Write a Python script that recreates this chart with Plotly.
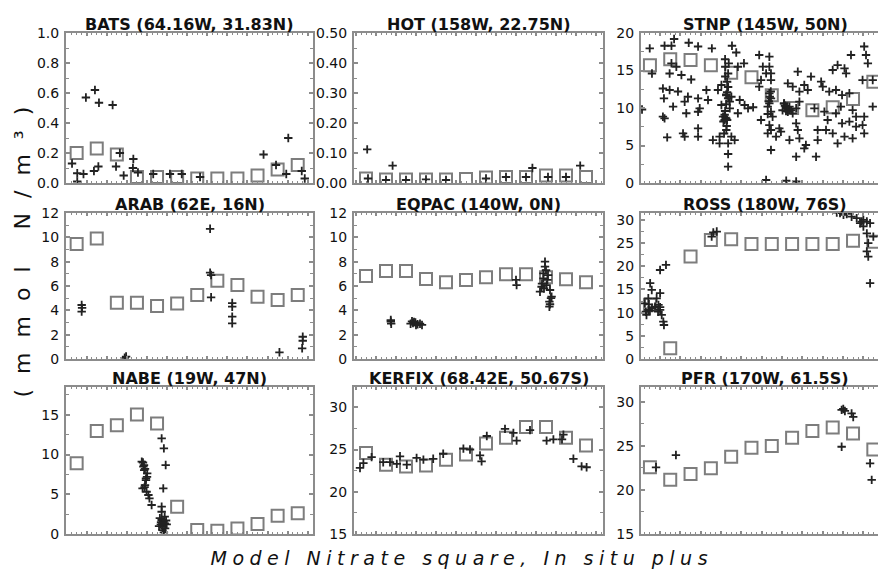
import plotly.graph_objects as go

# ---------------- data (months on x, nitrate mmol N/m3 on y) ----------------
months = [0.5, 1.5, 2.5, 3.5, 4.5, 5.5, 6.5, 7.5, 8.5, 9.5, 10.5, 11.5]

bats_model = [0.20, 0.23, 0.19, 0.04, 0.04, 0.04, 0.03, 0.03, 0.03, 0.05, 0.09, 0.12]
bats_obs_x = [0.96, 1.41, 1.61, 2.29, 0.27, 0.53, 0.84, 1.36, 1.58, 2.46, 2.65, 3.32, 3.30, 2.84, 3.55,
              4.31, 5.14, 5.73, 6.64, 9.80, 11.03, 10.42, 10.93, 0.53, 11.70, 11.85]
bats_obs_y = [0.57, 0.62, 0.535, 0.52, 0.13, 0.065, 0.06, 0.08, 0.11, 0.11, 0.20, 0.16, 0.10, 0.05, 0.07,
              0.06, 0.06, 0.06, 0.04, 0.19, 0.30, 0.12, 0.06, 0.01, 0.08, 0.03]

hot_model = [0.015, 0.012, 0.012, 0.012, 0.012, 0.013, 0.018, 0.02, 0.02, 0.025, 0.025, 0.02]
hot_obs_x = [0.56, 1.83, 8.82, 11.21, 0.6, 1.5, 2.5, 3.5, 4.5, 6.5, 7.5, 8.5, 9.6, 10.5]
hot_obs_y = [0.112, 0.058, 0.05, 0.058, 0.015, 0.01, 0.01, 0.012, 0.01, 0.015, 0.02, 0.02, 0.02, 0.02]

stnp_model = [15.7, 16.5, 16.4, 15.7, 14.7, 14.1, 11.7, 10.0, 9.7, 10.1, 11.2, 13.5]
stnp_obs_x = [1.69, 2.41, 1.22, 1.56, 0.49, 2.87, 3.55, 4.54, 4.75, 5.13, 4.38, 4.21, 1.56, 1.80, 1.47,
              2.05, 2.53, 4.35, 4.21, 4.83, 1.14, 1.47, 1.19, 1.88, 2.37, 2.21, 2.87, 3.28, 3.36, 3.85,
              4.02, 4.35, 4.26, 4.51, 4.43, 4.92, 4.02, 0.11, 1.64, 2.29, 2.95, 2.87, 4.43, 4.83, 5.33,
              5.16, 4.10, 4.18, 4.26, 1.14, 1.22, 2.87, 2.87, 2.13, 2.21, 1.35, 3.60, 3.93, 4.26, 4.51,
              4.67, 4.35, 3.93, 4.35, 4.35, 4.26, 4.30, 4.22, 4.30, 4.18, 4.12, 4.35, 0.60,
              5.88, 6.38, 6.06, 6.38, 6.22, 6.46, 5.97, 5.88, 6.46, 6.38, 6.46, 6.38, 6.30, 6.46, 6.54,
              5.97, 6.38, 6.46, 6.30, 6.87, 6.95, 6.71, 6.46, 7.78, 8.43, 7.29, 7.53, 8.10, 7.86, 8.27,
              8.93, 9.01, 9.33, 9.66, 9.96, 10.32, 9.50, 9.74, 10.08, 10.16, 10.40, 11.05, 11.14, 11.23,
              10.97, 11.47, 7.21, 7.37, 7.11, 7.29, 7.03, 7.45, 7.53, 7.70, 7.86, 8.60, 9.09, 9.66, 9.90,
              10.48, 10.65, 11.05, 11.47, 9.25, 9.96, 10.32, 10.65, 10.97, 9.17, 9.50, 10.08, 9.74, 10.48,
              11.05, 7.70, 7.78, 7.37, 8.18, 8.10, 7.86, 8.76, 8.76, 7.70, 8.68, 7.21, 6.22, 7.70, 5.58,
              7.15, 7.25, 7.35, 7.20, 7.10, 6.40, 6.35, 6.45, 6.30, 4.25, 4.20, 4.28, 4.15, 4.30, 4.20]
stnp_obs_y = [19.2, 18.7, 18.3, 18.3, 17.95, 18.2, 17.95, 18.3, 17.4, 15.96, 15.96, 15.5, 15.96, 15.5, 14.6,
              14.4, 13.8, 14.6, 14.2, 15.5, 12.6, 12.4, 11.29, 12.2, 11.5, 10.84, 11.29, 12.4, 11.07, 12.4,
              13.07, 12.8, 11.7, 11.5, 10.84, 11.07, 10.4, 9.8, 10.18, 9.3, 9.96, 9.5, 9.96, 9.3, 9.96,
              10.4, 8.84, 8.4, 8.62, 8.84, 8.62, 7.29, 6.18, 6.62, 6.18, 6.09, 5.73, 6.18, 7.07, 6.18,
              5.73, 5.29, 5.29, 3.87, 2.18, 11.8, 12.1, 8.7, 8.4, 9.1, 8.2, 11.3, 14.6,
              17.07, 16.84, 15.51, 15.51, 14.62, 14.62, 13.73, 12.84, 13.73, 11.96, 11.29, 10.62, 10.18, 9.51, 8.84,
              8.4, 7.73, 7.07, 6.62, 7.29, 6.84, 6.18, 4.4, 14.84, 14.18, 13.29, 12.84, 13.07, 12.18, 12.4,
              13.51, 12.84, 12.18, 12.4, 11.73, 11.96, 15.07, 15.73, 15.29, 14.62, 17.07, 18.2, 17.07, 15.96,
              13.73, 13.73, 9.96, 10.18, 10.62, 9.51, 9.7, 9.7, 9.29, 9.96, 10.84, 9.96, 9.51, 9.29, 10.18,
              9.73, 8.84, 8.84, 10.18, 8.4, 7.96, 8.18, 7.51, 7.73, 7.07, 6.62, 6.18, 5.29, 5.96,
              6.62, 7.96, 7.07, 5.73, 5.07, 4.62, 5.96, 7.07, 5.73, 3.51, 3.51, 0.3, 0.4, 0.2, 10.1,
              10.3, 10.0, 9.8, 9.6, 10.6, 11.5, 10.9, 12.2, 9.2, 10.5, 9.6, 7.6, 6.6, 13.5, 16.5]

arab_model = [9.45, 9.9, 4.63, 4.63, 4.35, 4.57, 5.26, 6.44, 6.08, 5.12, 4.85, 5.26]
arab_obs_x = [0.75, 0.75, 0.77, 2.96, 2.89, 7.14, 7.14, 7.19, 7.19, 8.24, 8.24, 8.24, 8.24, 10.59, 11.75, 11.75, 11.72]
arab_obs_y = [4.44, 3.89, 4.2, 0.2, 0.1, 10.7, 7.1, 6.9, 5.07, 4.3, 4.6, 3.48, 2.93, 0.55, 1.83, 1.5, 0.88]

eqpac_model = [6.82, 7.23, 7.23, 6.57, 6.30, 6.49, 6.71, 6.96, 6.96, 6.71, 6.55, 6.30]
eqpac_obs_x = [1.74, 1.74, 1.76, 2.73, 2.85, 2.97, 3.08, 3.20, 3.30, 2.80, 3.00, 2.90, 8.03, 8.00,
               9.45, 9.50, 9.37, 9.28, 9.20, 9.53, 9.70, 9.78, 9.67, 9.67, 9.37, 9.57, 9.45, 9.30, 9.40,
               9.60, 9.75, 9.70]
eqpac_obs_y = [3.07, 3.2, 2.9, 2.9, 2.95, 3.0, 2.85, 2.9, 2.8, 3.1, 2.8, 3.05, 6.08, 6.5,
               8.0, 7.31, 6.63, 5.94, 5.53, 6.08, 5.67, 5.12, 4.71, 4.3, 7.04, 6.5, 7.6, 6.2, 5.8,
               6.9, 5.0, 4.5]

ross_model = [11.7, 2.3, 22.1, 25.7, 25.85, 24.8, 24.8, 24.8, 24.8, 24.8, 25.5, 25.3]
ross_obs_x = [0.51, 0.59, 0.42, 0.25, 0.42, 0.33, 0.75, 0.92, 1.00, 1.08, 1.16, 1.19, 1.00, 1.29, 0.83, 1.00,
              0.50, 0.60, 0.45, 0.30, 0.90, 1.00, 3.62, 3.79, 3.54,
              9.70, 10.03, 10.19, 9.86, 10.68, 10.93, 11.18, 11.34, 11.01, 11.18, 11.25, 11.18, 11.25,
              11.34, 11.50, 10.43, 11.01, 10.85]
ross_obs_y = [16.35, 14.9, 13.1, 12.0, 10.59, 9.5, 11.3, 11.67, 10.59, 9.5, 8.06, 7.34, 19.2, 20.3, 13.1, 14.2,
              10.5, 11.0, 11.8, 10.2, 10.2, 11.2, 27.3, 27.5, 26.4,
              31.6, 31.1, 31.3, 31.5, 30.4, 29.66, 29.66, 29.3, 28.6, 27.1, 25.0, 23.2, 22.1,
              16.35, 26.4, 30.7, 30.0, 29.3]

nabe_model = [8.9, 12.96, 13.7, 15.05, 13.9, 3.43, 0.5, 0.4, 0.7, 1.26, 2.3, 2.6]
nabe_obs_x = [3.74, 3.82, 3.86, 4.00, 3.90, 3.78, 3.98, 4.12, 4.23, 3.85, 4.01, 3.95, 4.07, 3.80, 3.90, 3.88, 3.95,
              4.73, 4.84, 4.93, 4.81, 4.73, 4.73,
              4.64, 4.73, 4.81, 4.89, 4.69, 4.79, 4.60, 4.98, 4.88, 4.77, 4.84, 4.70, 4.95, 4.90]
nabe_obs_y = [9.1, 8.47, 8.05, 7.2, 6.16, 5.74, 5.32, 4.49, 3.65, 8.68, 7.63, 6.79, 4.91, 9.0, 8.2, 5.9, 7.0,
              12.03, 10.78, 8.68, 5.74, 3.44, 2.8,
              2.0, 1.76, 1.55, 1.34, 1.2, 0.92, 1.0, 1.2, 2.18, 0.5, 0.2, 1.5, 1.7, 0.7]

kerfix_model = [24.6, 23.2, 23.0, 23.1, 23.8, 24.4, 25.7, 26.38, 27.68, 27.68, 26.38, 25.47]
kerfix_obs_x = [0.20, 0.37, 0.78, 1.36, 1.70, 2.04, 2.20, 2.54, 3.03, 3.37, 3.86, 4.36, 5.37, 5.70, 6.20,
                6.28, 7.45, 7.87, 8.03, 8.70, 9.53, 9.87, 10.37, 10.87, 11.28, 11.53, 6.54, 10.30]
kerfix_obs_y = [22.82, 23.4, 24.1, 23.5, 23.5, 23.3, 24.2, 23.2, 24.0, 23.8, 23.9, 24.5, 25.1, 25.0, 24.3,
                23.6, 27.44, 26.96, 26.05, 27.3, 26.05, 26.2, 26.76, 23.9, 23.0, 22.9, 26.6, 26.2]

pfr_model = [22.58, 21.15, 21.83, 22.47, 23.79, 24.8, 25.0, 25.93, 26.69, 27.1, 26.42, 24.61]
pfr_obs_x = [0.80, 1.78, 9.94, 9.94, 10.02, 10.10, 10.43, 10.51, 11.34, 11.42]
pfr_obs_y = [22.58, 23.97, 24.91, 29.1, 29.2, 28.98, 28.7, 28.3, 23.03, 21.15]

titles = ["BATS (64.16W, 31.83N)", "HOT (158W, 22.75N)", "STNP (145W, 50N)",
          "ARAB (62E, 16N)", "EQPAC (140W, 0N)", "ROSS (180W, 76S)",
          "NABE (19W, 47N)", "KERFIX (68.42E, 50.67S)", "PFR (170W, 61.5S)"]
y_ranges = [[0, 1.0], [0, 0.5], [0, 20], [0, 12], [0, 12], [0, 31.5], [0, 18.5], [15, 32.4], [15, 31.7]]
y_dticks = [0.2, 0.1, 5, 2, 2, 5, 5, 5, 5]
y_formats = [".1f", ".2f", "d", "d", "d", "d", "d", "d", "d"]
x_title = "Model Nitrate square, In situ plus"
y_title = "(mmol N/m\u00b3)"

panels = [
    (bats_model, bats_obs_x, bats_obs_y),
    (hot_model, hot_obs_x, hot_obs_y),
    (stnp_model, stnp_obs_x, stnp_obs_y),
    (arab_model, arab_obs_x, arab_obs_y),
    (eqpac_model, eqpac_obs_x, eqpac_obs_y),
    (ross_model, ross_obs_x, ross_obs_y),
    (nabe_model, nabe_obs_x, nabe_obs_y),
    (kerfix_model, kerfix_obs_x, kerfix_obs_y),
    (pfr_model, pfr_obs_x, pfr_obs_y),
]

# ---------------- layout geometry ----------------
W, H = 878, 571
col_px = [(66, 313), (354, 603), (641, 878)]
row_px = [(33, 183), (213, 359), (387, 534)]
col_xrange = [[-0.03, 12.26], [-0.1, 12.35], [0.06, 11.73]]

FRAME = "#8c8c8c"
FONT = "DejaVu Sans"

fig = go.Figure()
layout = dict(width=W, height=H, margin=dict(l=0, r=0, t=0, b=0, pad=0, autoexpand=False),
              paper_bgcolor="white", plot_bgcolor="white", showlegend=False, template="none",
              font=dict(family=FONT, color="#111111"))
annotations = []

for i, (model, ox, oy) in enumerate(panels):
    r, c = divmod(i, 3)
    n = "" if i == 0 else str(i + 1)
    xa, ya = "x" + n, "y" + n
    fig.add_trace(go.Scatter(x=months, y=model, mode="markers", xaxis=xa, yaxis=ya,
                             marker=dict(symbol="square-open", size=12, color="#7d7d7d",
                                         line=dict(width=2, color="#7d7d7d")),
                             cliponaxis=True))
    fig.add_trace(go.Scatter(x=ox, y=oy, mode="markers", xaxis=xa, yaxis=ya,
                             marker=dict(symbol="cross-thin-open", size=6, color="#222222",
                                         line=dict(width=1.8, color="#222222")),
                             cliponaxis=True))
    x0, x1 = col_px[c]
    y0, y1 = row_px[r]
    layout["xaxis" + n] = dict(domain=[x0 / W, x1 / W], range=col_xrange[c], anchor=ya, automargin=False,
                               showline=True, linecolor=FRAME, linewidth=2, mirror="ticks",
                               ticks="inside", dtick=1, tick0=0, ticklen=3, tickwidth=1.5,
                               tickcolor=FRAME, showticklabels=False, showgrid=False, zeroline=False,
                               minor=dict(ticks="inside", dtick=0.25, ticklen=2, tickcolor=FRAME, tickwidth=1,
                                          showgrid=False))
    layout["yaxis" + n] = dict(domain=[1 - y1 / H, 1 - y0 / H], range=y_ranges[i], anchor=xa, automargin=False,
                               showline=True, linecolor=FRAME, linewidth=2,
                               mirror=("ticks" if c < 2 else False),
                               ticks="inside", dtick=y_dticks[i], ticklen=4, tickwidth=1.5,
                               tickcolor=FRAME, tickformat=y_formats[i], showgrid=False, zeroline=False,
                               tickfont=dict(family=FONT, size=14, color="#111111"), ticklabelstandoff=2,
                               minor=dict(ticks="inside", dtick=y_dticks[i] / 2, ticklen=3,
                                          tickcolor=FRAME, tickwidth=1, showgrid=False))
    cx = ((x0 + x0 + 248) / 2) / W if c == 2 else ((x0 + x1) / 2) / W
    annotations.append(dict(text="<b>%s</b>" % titles[i], xref="paper", yref="paper",
                            x=cx, y=1 - y0 / H, xanchor="center", yanchor="bottom", showarrow=False,
                            font=dict(family=FONT, size=16, color="#111111"), yshift=-3))

annotations.append(dict(text=x_title, xref="paper", yref="paper", x=462 / W, y=1 - 558 / H,
                        xanchor="center", yanchor="middle", showarrow=False,
                        font=dict(family=FONT, size=19, color="#111111", style="italic")))
annotations.append(dict(text=y_title, xref="paper", yref="paper", x=22 / W, y=1 - 245 / H, textangle=-90,
                        xanchor="center", yanchor="middle", showarrow=False,
                        font=dict(family=FONT, size=22, color="#111111")))
layout["annotations"] = annotations
fig.update_layout(**layout)

post = """
document.body.style.margin = '0';
document.body.style.overflow = 'hidden';
var gd = document.getElementById('{plot_id}');
gd.querySelectorAll('text.annotation-text').forEach(function(t) {
  var s = t.textContent;
  if (s.indexOf('Model Nitrate') === 0) { t.style.letterSpacing = '5.5px'; }
  if (s.indexOf('(mmol') === 0) { t.style.letterSpacing = '15px'; }
});
"""
fig.write_html("out.html", post_script=post, config={"displayModeBar": False})
